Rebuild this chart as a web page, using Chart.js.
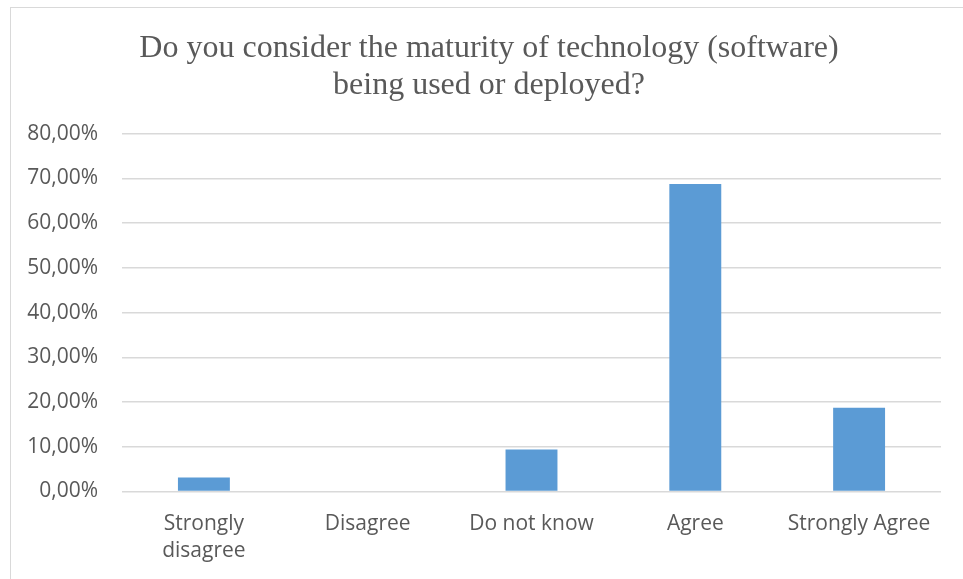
<!DOCTYPE html>
<html>
<head>
<meta charset="utf-8">
<script src="https://cdn.jsdelivr.net/npm/chart.js@4/dist/chart.umd.min.js"></script>
<style>
  html, body { margin: 0; padding: 0; background: #ffffff; }
  #wrap { position: relative; width: 963px; height: 579px; overflow: hidden; }
  #frame { position: absolute; left: 10px; top: 7px; width: 970px; height: 600px;
           border-left: 1px solid #d9d9d9; border-top: 1px solid #d9d9d9; box-sizing: border-box; }
  canvas { position: absolute; left: 0; top: 0; }
</style>
</head>
<body>
<div id="wrap">
  <div id="frame"></div>
  <canvas id="c" width="963" height="579"></canvas>
</div>
<script>
// Survey answers: share of respondents per answer
const categories = [["Strongly", "disagree"], "Disagree", "Do not know", "Agree", "Strongly Agree"];
const shares = [3.125, 0, 9.375, 68.75, 18.75];
const tickValues = [0, 10, 20, 30, 40, 50, 60, 70, 80];
const titleLines = ["Do you consider the maturity of technology (software)", "being used or deployed?"];

const fmtPct = v => v.toFixed(2).replace('.', ',') + '%';

// Center the title over the framed area rather than the whole canvas
const titleShift = {
  id: 'titleShift',
  afterLayout(chart) {
    const t = chart.titleBlock;
    if (t) { t.left += 37; t.width = t.right - t.left; }
  }
};

new Chart(document.getElementById('c'), {
  type: 'bar',
  data: {
    labels: categories,
    datasets: [{
      data: shares,
      backgroundColor: '#5b9bd5',
      borderWidth: 0,
      barPercentage: 1,
      categoryPercentage: 0.317
    }]
  },
  options: {
    responsive: false,
    animation: false,
    layout: { padding: { left: 0, right: 22, top: 0, bottom: 0 } },
    plugins: {
      legend: { display: false },
      tooltip: { enabled: false },
      title: {
        display: true,
        text: titleLines,
        color: '#595959',
        font: { family: 'Liberation Serif', size: 32, weight: 'normal', lineHeight: 1.16 },
        padding: { top: 30, bottom: 29.5 }
      }
    },
    scales: {
      x: {
        grid: { display: false, drawTicks: false },
        border: { display: false },
        ticks: {
          color: '#595959',
          font: { family: 'Open Sans', size: 21, lineHeight: 1.29 },
          padding: 19,
          maxRotation: 0,
          autoSkip: false
        },
        afterFit: s => { s.height = 87.5; }
      },
      y: {
        min: 0,
        max: 80,
        afterBuildTicks: s => { s.ticks = tickValues.map(v => ({ value: v })); },
        grid: { color: '#d9d9d9', lineWidth: 1.5, drawTicks: false },
        border: { display: false },
        ticks: {
          color: '#595959',
          font: { family: 'Open Sans', size: 21 },
          padding: 24,
          callback: v => fmtPct(v)
        },
        afterFit: s => { s.width = 122; }
      }
    }
  },
  plugins: [titleShift]
});
</script>
</body>
</html>
